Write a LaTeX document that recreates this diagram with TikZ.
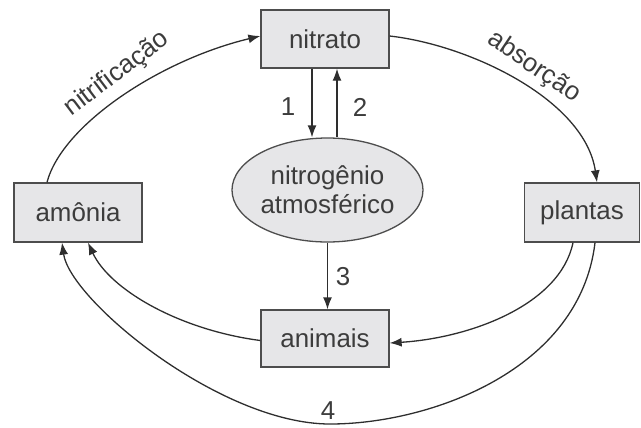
\documentclass[tikz,border=0pt]{standalone}
\usepackage{fontspec}
\setmainfont{Liberation Sans}
\usetikzlibrary{shapes.geometric,arrows.meta}
\definecolor{txt}{HTML}{3C3C3C}
\definecolor{ln}{HTML}{2E2E2E}
\definecolor{bx}{HTML}{E6E6E8}
\tikzset{
  box/.style={draw=ln!85, line width=1.3bp, fill=bx, text=txt, inner sep=0pt,
    font=\fontsize{26}{31}\selectfont},
  oval/.style={ellipse, draw=ln!85, line width=1.3bp, fill=bx, text=txt, inner sep=0pt,
    font=\fontsize{26}{31}\selectfont, align=center},
  arr/.style={draw=ln, line width=1.3bp, -{Latex[length=12bp,width=9bp]}},
  lbl/.style={text=txt, inner sep=0pt, font=\fontsize{26}{31}\selectfont}
}
\begin{document}
\begin{tikzpicture}[x=1bp,y=1bp]
\useasboundingbox (0,0) rectangle (641,-427);
\node[box, minimum width=128bp, minimum height=58bp] (nitrato) at (325,-39) {nitrato};
\node[box, minimum width=128bp, minimum height=59bp] (amonia) at (78,-212.5) {amônia};
\node[box, minimum width=115bp, minimum height=59bp] (plantas) at (582,-212.5) {plantas};
\node[box, minimum width=128bp, minimum height=57bp] (animais) at (325,-338.5) {animais};
\node[oval, minimum width=191bp, minimum height=104bp] (nitro) at (327.5,-190) {nitrogênio\\[-2bp]atmosférico};

% 1 and 2
\draw[arr] ([xshift=-13bp]nitrato.south) -- ([xshift=-13bp]nitrato.south |- nitro.north);
\draw[arr] ([xshift=12bp]nitrato.south |- nitro.north) -- ([xshift=12bp]nitrato.south);
\node[lbl] (l1) at (288,-107) {1};
\node[lbl] (l2) at (360,-107) {2};
% 3
\draw[arr] (nitro.south) -- (nitro.south |- animais.north);
\node[lbl] (l3) at (343,-277) {3};

% nitrificacao
\draw[arr] ([xshift=-31bp]amonia.north) .. controls (62,-125) and (160,-60) .. ([yshift=3bp]nitrato.west);
\node[lbl, rotate=37] (lnit) at (117,-74) {nitrificação};

% absorcao
\draw[arr] ([yshift=3bp]nitrato.east) .. controls (470,-45) and (585,-100) .. ([xshift=15bp]plantas.north);
\node[lbl, rotate=-34] (labs) at (534,-67) {absorção};

% animais -> amonia
\draw[arr] ([yshift=-2bp]animais.west) .. controls (180,-330) and (110,-290) .. ([xshift=10bp]amonia.south);

% plantas -> animais
\draw[arr] ([xshift=-9bp]plantas.south) .. controls (560,-305) and (470,-338) .. ([yshift=-4.5bp]animais.east);

% 4
\coordinate (low) at (330,-424);
\draw[arr] ([xshift=13bp]plantas.south) .. controls (580,-370) and (430,-424) .. (low)
  .. controls (220,-424) and (70,-300) .. ([xshift=-16bp]amonia.south);
\node[lbl] (l4) at (328,-411) {4};
\end{tikzpicture}
\end{document}
